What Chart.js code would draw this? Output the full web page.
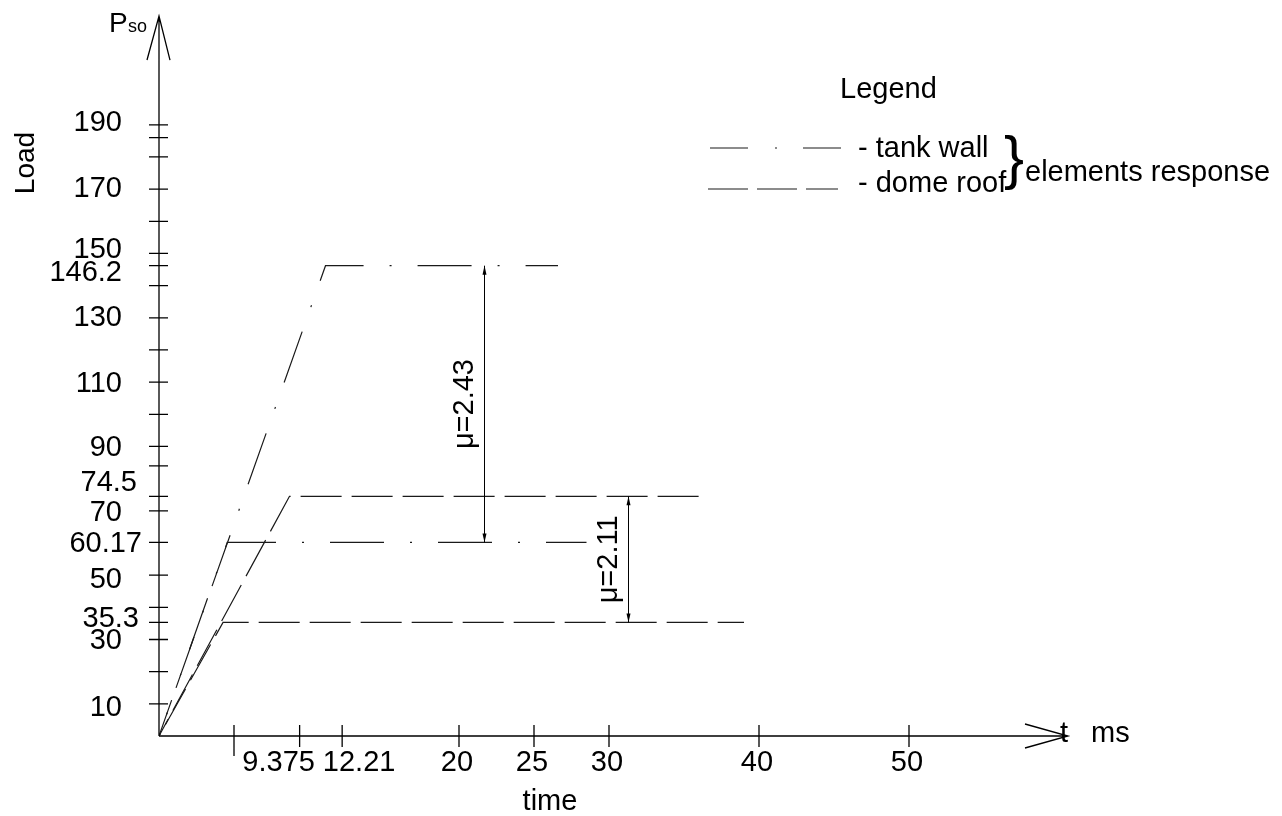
<!DOCTYPE html>
<html>
<head>
<meta charset="utf-8">
<title>Load - time response</title>
<script src="https://cdn.jsdelivr.net/npm/chart.js@4.4.1/dist/chart.umd.min.js"></script>
<style>
  html, body { margin:0; padding:0; background:#fff; }
  #wrap { width:1282px; height:816px; }
</style>
</head>
<body>
<div id="wrap"><canvas id="chart" width="1282" height="816"></canvas></div>
<script>
(() => {
  'use strict';

  // ---------- Data ----------
  const wallLoads     = [60.17, 146.2];   // tank wall plateaus
  const wallRiseTimes = [4.55, 11.1];     // ms, end of ramp
  const wallEndTimes  = [28.5, 26.6];     // ms, end of drawn plateau
  const roofLoads     = [35.3, 74.5];     // dome roof plateaus
  const roofRiseTimes = [4.27, 8.7];
  const roofEndTimes  = [39.0, 36.3];

  const xTickValues = [5, 9.375, 12.21, 20, 25, 30, 40, 50];
  const xTickLabels = ['', '9.375', '12.21', '20', '25', '30', '40', '50'];
  const yTickValues = [10, 20, 30, 35.3, 40, 50, 60.17, 70, 74.5, 84, 90, 100, 110, 120, 130, 140, 146.2, 150, 160, 170, 180, 186, 190];
  const yTickLabels = ['10', '30', '35.3', '50', '60.17', '70', '74.5', '90', '110', '130', '146.2', '150', '170', '190'];

  const muLabels = ['\u03bc=2.43', '\u03bc=2.11'];
  const muTimes  = [21.7, 31.3];
  const muFrom   = [60.17, 35.3];
  const muTo     = [146.2, 74.5];

  const xAxisEnd = 60.6, yAxisEnd = 223.8;

  // ---------- Styling ----------
  const FONT = '"Liberation Sans", Arial, sans-serif';
  const INK = '#000';
  const LINE = '#1a1a1a';
  const wallDash = [54, 26, 2, 26];
  const roofDash = [41, 10];
  const wallDashOffsets = [16, 57];
  const roofDashOffsets = [38, 22];
  // nudges for labels that were pushed apart in the drawing
  const yLabelNudge = { '190':-4, '170':-2, '150':-5, '146.2':5, '130':-2, '74.5':-15, '50':3, '35.3':-5, '10':2 };
  const yLabelRight = { '74.5':-22, '60.17':-17, '35.3':-20 };
  const xLabelNudge = { '9.375':-19, '12.21':19 };

  const ramp = (load, rise, end) => [{x:0, y:0}, {x:rise, y:load}, {x:end, y:load}];

  const datasets = [];
  wallLoads.forEach((v,i) => datasets.push({
    label:'tank wall', data:ramp(v, wallRiseTimes[i], wallEndTimes[i]),
    borderColor:LINE, borderWidth:1.2, borderDash:wallDash, borderDashOffset:wallDashOffsets[i],
    pointRadius:0, fill:false, tension:0
  }));
  roofLoads.forEach((v,i) => datasets.push({
    label:'dome roof', data:ramp(v, roofRiseTimes[i], roofEndTimes[i]),
    borderColor:LINE, borderWidth:1.2, borderDash:roofDash, borderDashOffset:roofDashOffsets[i],
    pointRadius:0, fill:false, tension:0
  }));

  // ---------- Drawing helpers ----------
  function text(ctx, s, x, y, size, align='left', rot=0){
    ctx.save();
    ctx.font = `${size}px ${FONT}`;
    ctx.fillStyle = INK;
    ctx.textAlign = align;
    ctx.textBaseline = rot ? 'middle' : 'alphabetic';
    ctx.translate(x, y);
    if(rot) ctx.rotate(rot);
    ctx.fillText(s, 0, 0);
    ctx.restore();
  }

  function arrowHead(ctx, x, y, dir){
    // small filled head, dir = -1 up, +1 down
    ctx.beginPath();
    ctx.moveTo(x, y);
    ctx.lineTo(x-2, y - dir*9);
    ctx.lineTo(x+2, y - dir*9);
    ctx.closePath();
    ctx.fill();
  }

  const drawingPlugin = {
    id:'drawing',
    afterDatasetsDraw(chart){
      const {ctx, scales:{x, y}} = chart;
      const x0 = x.getPixelForValue(0), y0 = y.getPixelForValue(0);
      const xe = x.getPixelForValue(xAxisEnd), ye = y.getPixelForValue(yAxisEnd);

      ctx.save();
      ctx.strokeStyle = INK; ctx.fillStyle = INK; ctx.lineWidth = 1.3;
      ctx.beginPath();
      ctx.moveTo(x0, y0); ctx.lineTo(xe, y0);
      ctx.moveTo(x0, y0); ctx.lineTo(x0, ye);
      ctx.moveTo(xe-43, y0-12); ctx.lineTo(xe, y0); ctx.lineTo(xe-43, y0+12);
      ctx.moveTo(x0-12, ye+44); ctx.lineTo(x0, ye); ctx.lineTo(x0+11, ye+44);
      yTickValues.forEach(v => { const py = y.getPixelForValue(v); ctx.moveTo(x0-10, py); ctx.lineTo(x0+9, py); });
      xTickValues.forEach((v,i) => { const px = x.getPixelForValue(v); ctx.moveTo(px, y0-11); ctx.lineTo(px, y0 + (i===0 ? 20 : 11)); });
      ctx.stroke();

      // tick labels
      yTickLabels.forEach(l => {
        const py = y.getPixelForValue(parseFloat(l)) + (yLabelNudge[l] || 0) + 10;
        text(ctx, l, x0 - 37 + (yLabelRight[l] ? 37 + yLabelRight[l] : 0), py, 29, 'right');
      });
      xTickValues.forEach((v,i) => {
        const l = xTickLabels[i]; if(!l) return;
        text(ctx, l, x.getPixelForValue(v) - 2 + (xLabelNudge[l] || 0), y0 + 35, 29, 'center');
      });

      // axis titles
      text(ctx, 'P', 109, 32, 28);
      text(ctx, 'so', 128, 32, 18);
      text(ctx, 'Load', 26, 163, 28, 'center', -Math.PI/2);
      text(ctx, 't', 1060, 742, 29);
      text(ctx, 'ms', 1091, 742, 29);
      text(ctx, 'time', 550, 810, 29, 'center');

      // mu dimension arrows
      ctx.lineWidth = 1;
      muLabels.forEach((l,i) => {
        const px = x.getPixelForValue(muTimes[i]);
        const pa = y.getPixelForValue(muTo[i]), pb = y.getPixelForValue(muFrom[i]);
        ctx.beginPath(); ctx.moveTo(px, pa); ctx.lineTo(px, pb); ctx.stroke();
        arrowHead(ctx, px, pa, -1);
        arrowHead(ctx, px, pb, 1);
        text(ctx, l, px - 20, (pa + pb)/2, 29, 'center', -Math.PI/2);
      });

      // legend block
      text(ctx, 'Legend', 840, 98, 29);
      ctx.lineWidth = 1.2; ctx.strokeStyle = LINE;
      ctx.beginPath();
      ctx.moveTo(710, 148); ctx.lineTo(748, 148);
      ctx.moveTo(775, 148); ctx.lineTo(777, 148);
      ctx.moveTo(803, 148); ctx.lineTo(841, 148);
      ctx.moveTo(708, 189); ctx.lineTo(748, 189);
      ctx.moveTo(757, 189); ctx.lineTo(797, 189);
      ctx.moveTo(806, 189); ctx.lineTo(838, 189);
      ctx.stroke();
      text(ctx, '- tank wall', 858, 157, 29);
      text(ctx, '- dome roof', 858, 192, 29);
      text(ctx, '}', 1004, 178, 60);
      text(ctx, 'elements response', 1025, 181, 29);
      ctx.restore();
    }
  };

  // ---------- Chart ----------
  const chart = new Chart(document.getElementById('chart'), {
    type:'line',
    data:{ datasets },
    options:{
      responsive:false,
      animation:false,
      parsing:true,
      layout:{ padding:{ left:159, right:208, top:15.4, bottom:80 } },
      scales:{
        x:{ type:'linear', min:0, max:61, display:false },
        y:{ type:'linear', min:0, max:224, display:false }
      },
      plugins:{ legend:{ display:false }, tooltip:{ enabled:false } }
    },
    plugins:[drawingPlugin]
  });

  window.loadChart = chart;
})();
</script>
</body>
</html>
